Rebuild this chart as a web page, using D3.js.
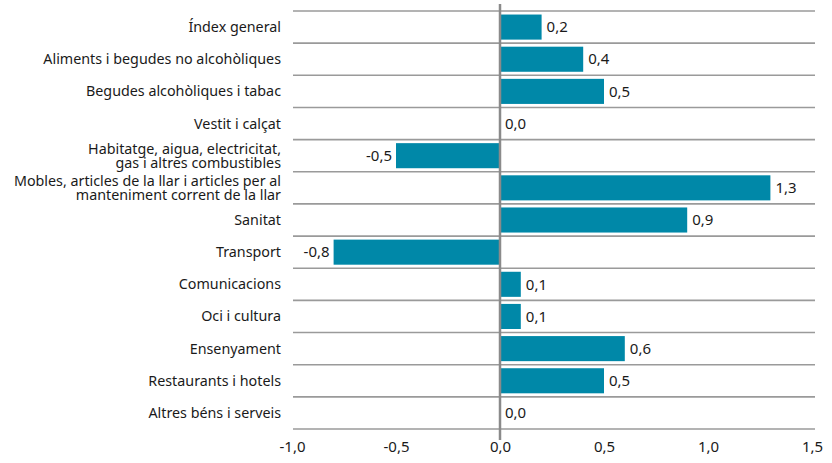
<!DOCTYPE html>
<html>
<head>
<meta charset="utf-8">
<script src="https://cdn.jsdelivr.net/npm/d3@7"></script>
<style>
  body { margin: 0; background: #fff; }
  text { font-family: "Noto Sans", "Open Sans", sans-serif; fill: #1a1a1a; }
</style>
</head>
<body>
<div id="chart"></div>
<script>
// categories (two-line labels split with \n)
const categories = [
  'Índex general',
  'Aliments i begudes no alcohòliques',
  'Begudes alcohòliques i tabac',
  'Vestit i calçat',
  'Habitatge, aigua, electricitat,\ngas i altres combustibles',
  'Mobles, articles de la llar i articles per al\nmanteniment corrent de la llar',
  'Sanitat',
  'Transport',
  'Comunicacions',
  'Oci i cultura',
  'Ensenyament',
  'Restaurants i hotels',
  'Altres béns i serveis'
];
const values = [0.2, 0.4, 0.5, 0.0, -0.5, 1.3, 0.9, -0.8, 0.1, 0.1, 0.6, 0.5, 0.0];
const xTicks = [-1.0, -0.5, 0.0, 0.5, 1.0, 1.5];

const width = 832, height = 463;
const fmt = v => d3.format('.1f')(v).replace('.', ',').replace('−', '-');

const svg = d3.select('#chart').append('svg')
  .attr('width', width)
  .attr('height', height);

const x = d3.scaleLinear().domain([-1, 1.5]).range([292, 812]);
const y = d3.scaleBand().domain(categories).range([11, 429]).paddingInner(0.22).paddingOuter(0.11);
const step = y.step();

// horizontal separators between categories
const seps = d3.range(categories.length + 1).map(i => 11 + i * step);
svg.append('g').selectAll('line')
  .data(seps)
  .enter().append('line')
  .attr('x1', x(-1) + 1).attr('x2', x(1.5) + 3)
  .attr('y1', d => d).attr('y2', d => d)
  .attr('stroke', '#9a9a9a')
  .attr('stroke-width', 1.6);

// bars
svg.append('g').selectAll('rect')
  .data(values)
  .enter().append('rect')
  .attr('x', d => x(Math.min(0, d)))
  .attr('y', (d, i) => y(categories[i]))
  .attr('width', d => Math.abs(x(d) - x(0)))
  .attr('height', y.bandwidth())
  .attr('fill', '#0088a8');

// zero line
svg.append('line')
  .attr('x1', x(0)).attr('x2', x(0))
  .attr('y1', 4).attr('y2', 440)
  .attr('stroke', '#8a8a8a')
  .attr('stroke-width', 2.5);

// value labels
svg.append('g').selectAll('text')
  .data(values)
  .enter().append('text')
  .attr('x', d => d < 0 ? x(d) - 4 : x(d) + 5)
  .attr('y', (d, i) => y(categories[i]) + y.bandwidth() / 2)
  .attr('dy', '0.35em')
  .attr('text-anchor', d => d < 0 ? 'end' : 'start')
  .style('font-size', '15px')
  .text(d => fmt(d));

// category labels
const labels = svg.append('g').selectAll('text')
  .data(categories)
  .enter().append('text')
  .attr('text-anchor', 'end')
  .style('font-size', '14.3px')
  .attr('transform', d => `translate(281,${y(d) + y.bandwidth() / 2})`);

labels.each(function(d) {
  const lines = d.split('\n');
  const t = d3.select(this);
  lines.forEach((ln, k) => {
    t.append('tspan')
      .attr('x', 0)
      .attr('y', (k - (lines.length - 1) / 2) * 14)
      .attr('dy', '0.35em')
      .text(ln);
  });
});

// x axis
const xAxis = svg.append('g')
  .attr('transform', 'translate(0,447)')
  .call(d3.axisBottom(x).tickValues(xTicks).tickSize(0).tickFormat(fmt));
xAxis.select('.domain').remove();
xAxis.selectAll('text')
  .attr('dy', '0.35em')
  .attr('y', 0)
  .style('font-size', '15px')
  .style('font-family', '"Noto Sans", sans-serif')
  .attr('fill', '#1a1a1a');
</script>
</body>
</html>
